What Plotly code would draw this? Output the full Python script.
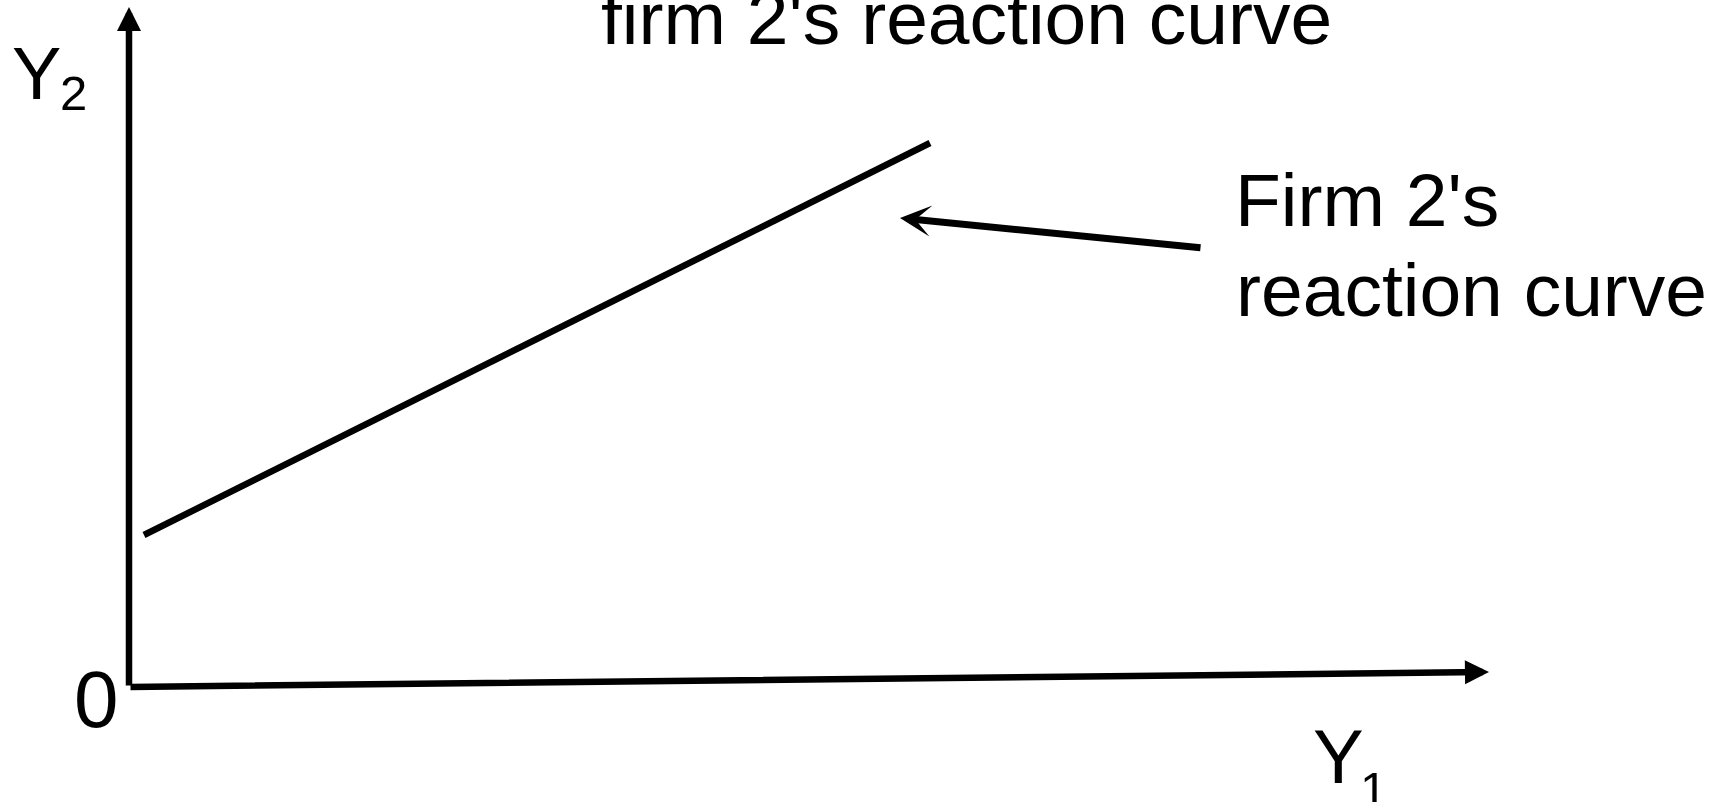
import plotly.graph_objects as go

# ---- diagram data (units: arbitrary quantity units, origin at 0) ----
# axes (tail -> tip)
y_axis_x = [0.0, 0.0]
y_axis_y = [0.0, 68.0]
x_axis_x = [0.0, 136.0]
x_axis_y = [0.0, 1.5]

# firm 2's reaction curve (linear)
curve_x = [1.5, 80.1]
curve_y = [15.2, 54.4]

# pointer arrow (tail -> tip)
pointer_x = [107.3, 77.1]
pointer_y = [43.9, 46.9]

# text labels
title_text = "firm 2's reaction curve"
label_lines = ["Firm 2's", "reaction curve"]
origin_label = "0"
y_label, y_sub = "Y", "2"
x_label, x_sub = "Y", "1"

FONT = "Liberation Sans, Arial, sans-serif"

fig = go.Figure()

fig.add_trace(go.Scatter(
    x=curve_x, y=curve_y, mode="lines",
    line=dict(color="black", width=6.5),
    hoverinfo="skip", showlegend=False,
))

def arrow(xs, ys, width, head, size):
    return dict(
        x=xs[1], y=ys[1], ax=xs[0], ay=ys[0],
        xref="x", yref="y", axref="x", ayref="y",
        showarrow=True, arrowhead=head, arrowsize=size,
        arrowwidth=width, arrowcolor="black", text="",
        standoff=0, startstandoff=0,
    )

annotations = [
    arrow(y_axis_x, y_axis_y, 6.5, 2, 0.74),
    arrow(x_axis_x, x_axis_y, 6.5, 2, 0.74),
    arrow(pointer_x, pointer_y, 7, 3, 0.74),
]

def label(text, x, y, size, xanchor="center"):
    return dict(
        x=x, y=y, xref="x", yref="y", text=text, showarrow=False,
        xanchor=xanchor, yanchor="middle",
        font=dict(family=FONT, size=size, color="black"),
    )

annotations += [
    label(title_text, 47.0, 66.9, 75, "left"),
    label(label_lines[0], 110.4, 48.7, 75, "left"),
    label(label_lines[1], 110.5, 39.7, 75, "left"),
    label(origin_label, -3.3, -1.2, 80),
    label(y_label, -9.3, 61.4, 74),
    label(y_sub, -5.55, 59.45, 49),
    label(x_label, 120.9, -6.9, 76),
    label(x_sub, 124.4, -10.2, 49),
]

fig.update_layout(
    width=1727, height=802,
    margin=dict(l=0, r=0, t=0, b=0),
    paper_bgcolor="white", plot_bgcolor="white",
    xaxis=dict(range=[-12.9, 159.8], visible=False, fixedrange=True),
    yaxis=dict(range=[-11.5, 68.7], visible=False, fixedrange=True),
    annotations=annotations,
    showlegend=False,
)

fig.write_html("out.html", config={"displayModeBar": False},
               post_script="document.body.style.margin='0';")
